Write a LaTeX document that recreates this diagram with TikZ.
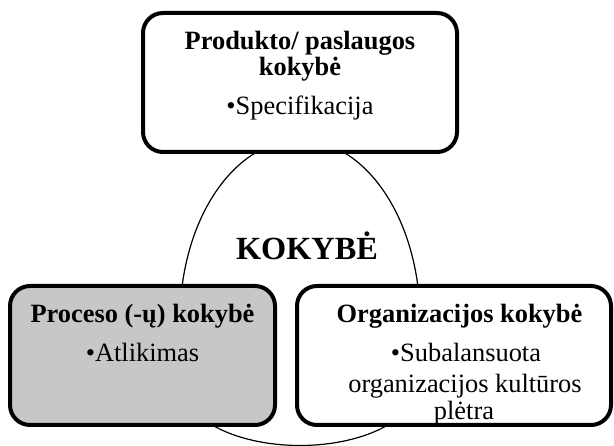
\documentclass[tikz,border=0pt]{standalone}
\usepackage{fontspec}
\setmainfont{Liberation Serif}
\begin{document}
\begin{tikzpicture}[x=1pt,y=-1pt,
  box/.style={draw=black, line width=4pt, rounded corners=20pt, fill=white, inner sep=0pt},
  ttl/.style={font=\fontsize{26.4}{28}\selectfont\bfseries, anchor=base, inner sep=0pt},
  txt/.style={font=\fontsize{26.4}{28}\selectfont, anchor=base, inner sep=0pt},
  big/.style={font=\fontsize{32.3}{34}\selectfont\bfseries, anchor=base, inner sep=0pt}]
\useasboundingbox (0,0) rectangle (614,446);
\begin{scope}
  \clip (0,0) rectangle (614,446);
  \draw[line width=1.2pt] (180,320) .. controls (180,220.6) and (233.8,140) .. (300,140)
    .. controls (366.2,140) and (420,220.6) .. (420,320)
    -- (420,381)
    .. controls (420,417) and (366.2,445.5) .. (300,445.5)
    .. controls (233.8,445.5) and (180,417) .. (180,381) -- cycle;
\end{scope}
\node[box, minimum width=314pt, minimum height=139pt] (top) at (300,82.5) {};
\node[box, fill=black!22, minimum width=265pt, minimum height=139pt] (left) at (142.5,355.5) {};
\node[box, minimum width=314pt, minimum height=139pt] (right) at (454,355.5) {};
\node[big] (k) at (307,260) {KOKYBĖ};
\node[ttl] (t1) at (300,50) {Produkto/ paslaugos};
\node[ttl] (t2) at (300,76) {kokybė};
\node[txt] (t3) at (300,115) {•Specifikacija};
\node[ttl] (l1) at (142.5,323) {Proceso (-ų) kokybė};
\node[txt] (l2) at (142.5,362) {•Atlikimas};
\node[ttl] (r1) at (459.5,323) {Organizacijos kokybė};
\node[txt] (r2) at (466,362) {•Subalansuota};
\node[txt] (r3) at (465,393) {organizacijos kultūros};
\node[txt] (r4) at (464,420) {plėtra};
\end{tikzpicture}
\end{document}
